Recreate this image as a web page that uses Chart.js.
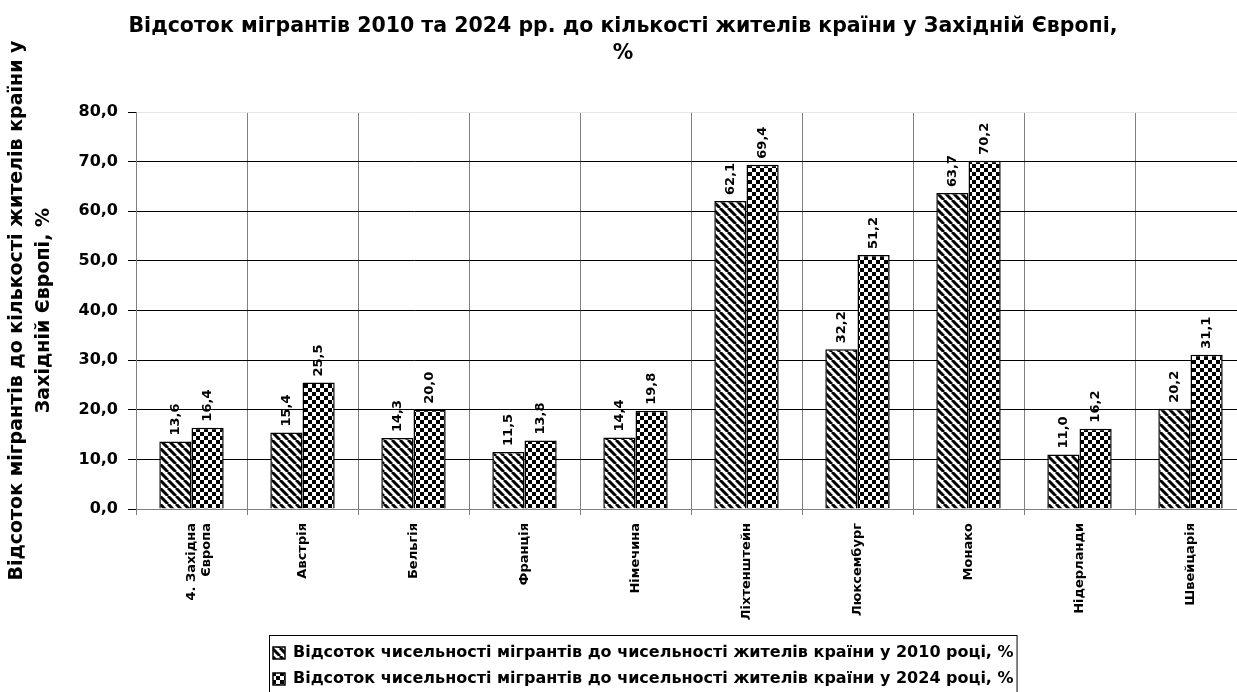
<!DOCTYPE html>
<html lang="uk">
<head>
<meta charset="utf-8">
<title>Відсоток мігрантів у Західній Європі</title>
<script src="https://cdn.jsdelivr.net/npm/chart.js@4.4.1/dist/chart.umd.min.js"></script>
<style>
  html, body { margin: 0; padding: 0; background: #fff; overflow: hidden; }
  #wrap { width: 1246px; height: 697px; }
</style>
</head>
<body>
<div id="wrap"><canvas id="chart" width="1246" height="697"></canvas></div>
<script>
const categories = [
    ['4. Західна', 'Європа'], 'Австрія', 'Бельгія', 'Франція', 'Німечина',
    'Ліхтенштейн', 'Люксембург', 'Монако', 'Нідерланди', 'Швейцарія'
];
const values2010 = [13.6, 15.4, 14.3, 11.5, 14.4, 62.1, 32.2, 63.7, 11.0, 20.2];
const values2024 = [16.4, 25.5, 20.0, 13.8, 19.8, 69.4, 51.2, 70.2, 16.2, 31.1];
const seriesNames = [
    'Відсоток чисельності мігрантів до чисельності жителів країни у 2010 році, %',
    'Відсоток чисельності мігрантів до чисельності жителів країни у 2024 році, %'
];
const chartTitle = ['Відсоток мігрантів 2010 та 2024 рр. до кількості жителів країни у Західній Європі,', '%'];
const yTitle = ['Відсоток мігрантів до кількості жителів країни у', 'Західній Європі, %'];

const FONT = "'DejaVu Sans', sans-serif";
Chart.defaults.font.family = FONT;
Chart.defaults.color = '#000';

const fmt = v => v.toFixed(1).replace('.', ',');

// hatch patterns like the old excel fills
function stripePattern() {
    const s = 8, c = document.createElement('canvas');
    c.width = s; c.height = s;
    const g = c.getContext('2d');
    g.fillStyle = '#fff'; g.fillRect(0, 0, s, s);
    g.strokeStyle = '#000'; g.lineWidth = 3;
    g.beginPath();
    for (const o of [-s, 0, s]) { g.moveTo(o, 0); g.lineTo(o + s, s); }
    g.stroke();
    return g.createPattern(c, 'repeat');
}
function checkerPattern() {
    const s = 4, c = document.createElement('canvas');
    c.width = s * 2; c.height = s * 2;
    const g = c.getContext('2d');
    g.fillStyle = '#fff'; g.fillRect(0, 0, s * 2, s * 2);
    g.fillStyle = '#000';
    g.fillRect(0, 0, s, s); g.fillRect(s, s, s, s);
    return g.createPattern(c, 'repeat');
}

// values above bars, rotated
const barLabels = {
    id: 'barLabels',
    afterDatasetsDraw(chart) {
        const ctx = chart.ctx;
        ctx.save();
        ctx.font = 'bold 13px ' + FONT;
        ctx.fillStyle = '#000';
        ctx.textAlign = 'left';
        ctx.textBaseline = 'middle';
        chart.data.datasets.forEach((ds, i) => {
            chart.getDatasetMeta(i).data.forEach((bar, j) => {
                ctx.save();
                ctx.translate(bar.x, bar.y - 6);
                ctx.rotate(-Math.PI / 2);
                ctx.fillText(fmt(ds.data[j]), 0, 0);
                ctx.restore();
            });
        });
        ctx.restore();
    }
};

// move legend left and put a frame around it
const legendFrame = {
    id: 'legendFrame',
    afterLayout(chart) {
        chart.legend.left = 263;
    },
    afterDraw(chart) {
        const lg = chart.legend;
        if (!lg || !lg.lineWidths) return;
        const pad = lg.options.labels.padding;
        const w = Math.max(...lg.lineWidths) - pad;
        const ctx = chart.ctx;
        ctx.save();
        ctx.strokeStyle = '#000';
        ctx.lineWidth = 1;
        ctx.strokeRect(lg.left + pad - 3.5, lg.top + 0.5, w + 7, lg.height + 10);
        ctx.restore();
    }
};

new Chart(document.getElementById('chart'), {
    type: 'bar',
    data: {
        labels: categories,
        datasets: [{
            label: seriesNames[0],
            data: values2010,
            backgroundColor: stripePattern(),
            borderColor: '#000',
            borderWidth: 1.5
        }, {
            label: seriesNames[1],
            data: values2024,
            backgroundColor: checkerPattern(),
            borderColor: '#000',
            borderWidth: 1.5
        }]
    },
    options: {
        responsive: false,
        animation: false,
        layout: { padding: 0 },
        datasets: { bar: { categoryPercentage: 0.58, barPercentage: 1.0 } },
        plugins: {
            title: {
                display: true,
                text: chartTitle,
                color: '#000',
                font: { size: 20.5, weight: 'bold', lineHeight: 1.32 },
                padding: { top: 13, bottom: 45 }
            },
            legend: {
                position: 'bottom',
                align: 'start',
                labels: {
                    boxWidth: 12,
                    boxHeight: 12,
                    padding: 10,
                    color: '#000',
                    font: { size: 16, weight: 'bold' }
                }
            },
            tooltip: { enabled: false }
        },
        scales: {
            x: {
                grid: { offset: true, color: '#808080', tickColor: '#808080', tickLength: 6 },
                border: { color: '#808080' },
                ticks: {
                    minRotation: 90, maxRotation: 90, padding: 8,
                    font: { size: 13, weight: 'bold' }
                },
                afterFit(scale) { scale.height = 126; }
            },
            y: {
                min: 0, max: 80,
                ticks: {
                    stepSize: 10, padding: 10,
                    font: { size: 16, weight: 'bold' },
                    callback: v => fmt(v)
                },
                grid: {
                    tickLength: 8,
                    tickColor: '#000',
                    color: c => c.tick.value === 80 ? '#e6e6e6' : (c.tick.value === 0 ? '#808080' : '#000')
                },
                border: { color: '#808080' },
                title: {
                    display: true,
                    text: yTitle,
                    color: '#000',
                    font: { size: 19, weight: 'bold', lineHeight: 1.42 },
                    padding: { top: 4, bottom: 0 }
                },
                afterFit(scale) { scale.width = 136; }
            }
        }
    },
    plugins: [barLabels, legendFrame]
});
</script>
</body>
</html>
